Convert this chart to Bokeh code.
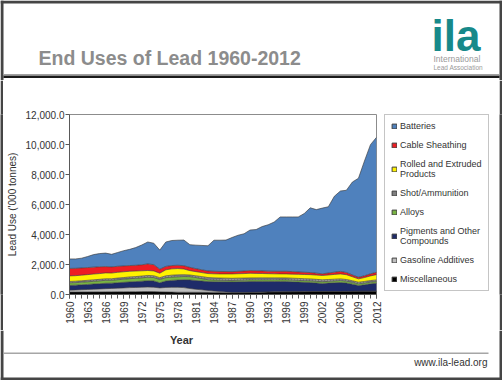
import math
from bokeh.plotting import figure
from bokeh.layouts import column, row
from bokeh.models import (ColumnDataSource, Range1d, FixedTicker, NumeralTickFormatter,
                          Legend, LegendItem, Label, BoxAnnotation)
from bokeh.transform import stack
from bokeh.embed import file_html
from bokeh.resources import INLINE

# ---------------- data ('000 tonnes) ----------------
years = [str(y) for y in list(range(1960, 2003)) + list(range(2004, 2013))]

miscellaneous = [165, 165, 170, 170, 175, 175, 180, 180, 185, 185, 190, 190, 195, 200, 195, 180,
                 170, 160, 150, 150, 150, 150, 150, 150, 140, 130, 120, 110, 115, 120, 130, 140,
                 150, 160, 170, 175, 177, 180, 185, 190, 195, 198, 199, 200, 200, 200, 205, 210,
                 220, 220, 220, 220]
gasoline = [125, 135, 150, 165, 180, 195, 210, 225, 240, 255, 270, 280, 290, 300, 290, 260,
            300, 320, 330, 310, 250, 200, 160, 120, 90, 65, 45, 30, 25, 20, 15, 12,
            10, 8, 6, 5, 5, 4, 3, 2, 1, 0, 0, 0, 0, 0, 0, 0,
            0, 0, 0, 0]
pigments = [320, 325, 330, 335, 345, 350, 355, 350, 360, 370, 380, 390, 400, 420, 420, 340,
            430, 460, 480, 520, 570, 580, 590, 590, 620, 650, 680, 700, 710, 715, 720, 715,
            710, 700, 690, 685, 680, 660, 640, 620, 600, 570, 540, 560, 580, 600, 560, 480,
            380, 430, 490, 530]
alloys = [165, 165, 170, 175, 180, 190, 200, 190, 200, 210, 215, 220, 225, 230, 225, 220,
          220, 220, 220, 220, 220, 200, 160, 120, 110, 100, 95, 90, 95, 100, 110, 110,
          110, 110, 110, 110, 110, 110, 110, 110, 110, 110, 110, 115, 120, 130, 125, 115,
          110, 110, 110, 110]
shot = [95, 95, 95, 100, 100, 100, 105, 105, 110, 110, 115, 115, 120, 120, 120, 120,
        125, 130, 130, 120, 110, 115, 130, 150, 150, 150, 150, 150, 145, 140, 130, 130,
        130, 130, 133, 133, 133, 133, 133, 132, 132, 132, 132, 125, 120, 110, 110, 110,
        110, 110, 110, 110]
rolled = [370, 370, 375, 380, 385, 385, 390, 380, 385, 385, 380, 370, 350, 330, 320, 300,
          400, 420, 420, 380, 290, 280, 270, 265, 270, 275, 280, 290, 295, 300, 310, 300,
          290, 280, 270, 265, 265, 270, 275, 280, 285, 285, 288, 300, 320, 330, 320, 270,
          222, 260, 310, 354]
cable = [500, 490, 480, 470, 460, 450, 420, 410, 400, 390, 380, 380, 400, 440, 420, 270,
         230, 220, 220, 220, 220, 200, 185, 177, 170, 165, 160, 155, 160, 170, 177, 177,
         175, 170, 170, 172, 177, 170, 160, 150, 140, 130, 110, 130, 150, 170, 150, 120,
         110, 120, 140, 154]
batteries = [630, 625, 650, 735, 835, 885, 900, 840, 920, 1015, 1080, 1185, 1320, 1460, 1430, 1270,
             1625, 1670, 1670, 1710, 1510, 1565, 1625, 1678, 2070, 2085, 2100, 2275, 2405, 2485, 2708, 2746,
             2955, 3092, 3281, 3625, 3623, 3643, 3664, 3916, 4317, 4235, 4381, 4420, 5060, 5360, 5480, 6195,
             6598, 7650, 8610, 9002]

y_ticks = [0, 2000, 4000, 6000, 8000, 10000, 12000]
label_every = 3

# stack order bottom -> top
series = [
    ("misc", "Miscellaneous", miscellaneous, "#000000"),
    ("gas", "Gasoline Additives", gasoline, "#BFBFBF"),
    ("pig", "Pigments and Other\nCompounds", pigments, "#1E2B69"),
    ("alloys", "Alloys", alloys, "#79B443"),
    ("shot", "Shot/Ammunition", shot, "#7F7F7F"),
    ("rolled", "Rolled and Extruded\nProducts", rolled, "#FFF200"),
    ("cable", "Cable Sheathing", cable, "#EE1D23"),
    ("batt", "Batteries", batteries, "#4F81BD"),
]

FONT = "Liberation Sans"
BORDER = "#454545"


def blank(width, height, x0, x1, y0, y1, fill="white"):
    f = figure(width=width, height=height, output_backend="svg", toolbar_location=None,
               x_range=Range1d(x0, x1), y_range=Range1d(y0, y1),
               x_axis_type=None, y_axis_type=None,
               min_border_left=0, min_border_right=0, min_border_top=0, min_border_bottom=0)
    f.outline_line_color = None
    f.xgrid.visible = False
    f.ygrid.visible = False
    f.background_fill_color = fill
    f.border_fill_color = fill
    return f


def lab(f, text, x, y, size, color="#333333", style="normal", align="left", baseline="alphabetic"):
    f.add_layout(Label(text=text, x=x, y=y, text_font=FONT, text_font_size=size,
                       text_color=color, text_font_style=style, text_align=align,
                       text_baseline=baseline))


def band(f, left, right, top, bottom, color):
    f.add_layout(BoxAnnotation(left=left, right=right, top=top, bottom=bottom,
                               fill_color=color, fill_alpha=1, line_alpha=0))


# ---------------- header (page y 0..80) ----------------
header = blank(502, 80, 0, 502, 80, 0)
band(header, 0, 502, 0, 3, BORDER)
band(header, 0, 3, 0, 80, BORDER)
band(header, 499, 502, 0, 80, BORDER)
lab(header, "End Uses of Lead 1960-2012", 38, 57.5, "19.5px", color="#8C8C8C", style="bold")
lab(header, "ila", 431, 35, "44px", color="#17898A", style="bold")
lab(header, "International", 433, 58.5, "8.5px", color="#9A9A9A")
lab(header, "Lead Association", 433, 66.5, "6.5px", color="#9A9A9A")
band(header, 3, 499, 73.6, 74.6, "#A0A0A0")
band(header, 3, 499, 75, 77.6, "#1A1A1A")

# ---------------- main chart (page x 3..384, y 80..330) ----------------
xs = list(range(len(years)))
data = {"x": xs}
for key, _, vals, _ in series:
    data[key] = vals
source = ColumnDataSource(data)

p = figure(width=381, height=250, output_backend="svg", toolbar_location=None,
           x_range=Range1d(xs[0], xs[-1]), y_range=Range1d(y_ticks[0], y_ticks[-1]),
           min_border_left=62, min_border_right=8, min_border_top=33, min_border_bottom=36)
p.background_fill_color = "white"
p.border_fill_color = "white"
p.outline_line_color = "#8C8C8C"
p.outline_line_width = 1
p.xgrid.visible = False
p.ygrid.visible = False

keys = [s[0] for s in series]
for i, (key, name, vals, color) in enumerate(series):
    lower = stack(*keys[:i]) if i > 0 else stack()
    kw = {}
    if key == "shot":
        kw = dict(hatch_pattern="dot", hatch_color="white", hatch_alpha=0.5, hatch_scale=3)
    p.varea(x="x", y1=lower, y2=stack(*keys[:i + 1]), source=source, fill_color=color, **kw)
for i in range(len(keys)):
    p.line(x="x", y=stack(*keys[:i + 1]), source=source, line_color="#3A3A3A",
           line_width=0.8, line_alpha=0.8)

p.xaxis.ticker = FixedTicker(ticks=xs[::label_every], minor_ticks=xs)
p.xaxis.major_label_overrides = {i: years[i] for i in xs[::label_every]}
p.xaxis.major_label_orientation = math.pi / 2
p.yaxis.ticker = FixedTicker(ticks=y_ticks)
p.yaxis.formatter = NumeralTickFormatter(format="0,0.0")
for ax in (p.xaxis[0], p.yaxis[0]):
    ax.axis_line_color = "#595959"
    ax.major_tick_line_color = "#595959"
    ax.minor_tick_line_color = "#595959"
    ax.major_tick_out = 4
    ax.major_tick_in = 0
    ax.minor_tick_out = 4
    ax.minor_tick_in = 0
    ax.major_label_text_font = FONT
    ax.major_label_text_font_size = "10px"
    ax.major_label_text_color = "#333333"
    ax.axis_label_text_font = FONT
    ax.axis_label_text_color = "#333333"
p.yaxis.minor_tick_line_color = None
p.yaxis.major_label_standoff = 1
p.xaxis.major_label_standoff = 3
p.yaxis.axis_label = "Lead Use ('000 tonnes)"
p.yaxis.axis_label_text_font_size = "10px"
p.yaxis.axis_label_text_font_style = "normal"
p.yaxis.axis_label_standoff = 5

# ---------------- legend panel (page x 384..499, y 80..330) ----------------
lg = blank(115, 250, 384, 499, 330, 80)
lg.min_border_top = 34
items = []
for key, name, vals, color in reversed(series):
    # hidden swatch (outside the visible range) that only provides the legend glyph
    dummy = lg.quad(left=[0], right=[1], top=[1], bottom=[0], fill_color=color,
                    line_color="#404040", line_width=1)
    items.append(LegendItem(label=name, renderers=[dummy]))
legend = Legend(items=items, location="top_left", border_line_color="#8C8C8C",
                border_line_width=1, background_fill_color="white", background_fill_alpha=1,
                padding=6, spacing=9, glyph_width=6, glyph_height=6, label_standoff=3,
                label_height=10, label_text_font=FONT, label_text_font_size="9px",
                label_text_color="#333333", margin=0)
lg.add_layout(legend, "center")

left_strip = blank(3, 250, 0, 1, 0, 1, fill=BORDER)
right_strip = blank(3, 250, 0, 1, 0, 1, fill=BORDER)

# ---------------- footer (page y 330..380) with x-axis title ----------------
footer = blank(502, 50, 0, 502, 380, 330)
band(footer, 0, 3, 330, 380, BORDER)
band(footer, 499, 502, 330, 380, BORDER)
band(footer, 0, 502, 377, 380, BORDER)
lab(footer, "Year", 181, 339, "11px", style="bold", align="center", baseline="middle")
band(footer, 3, 488, 352, 353.6, "#A6A6A6")
lab(footer, "www.ila-lead.org", 487, 362, "10px", align="right")

layout = column(header, row(left_strip, p, lg, right_strip, spacing=0), footer, spacing=0)

open("out.html", "w").write(file_html(layout, INLINE))
